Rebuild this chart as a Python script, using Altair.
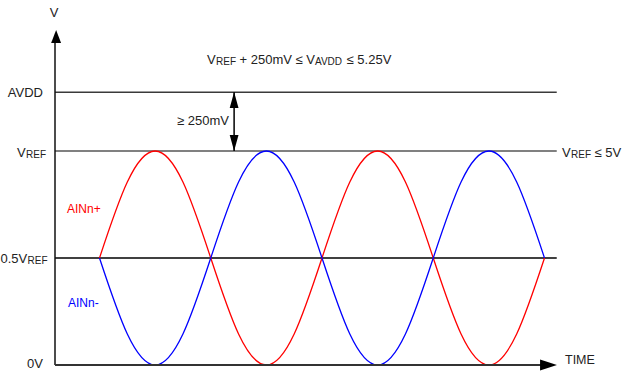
import altair as alt
import pandas as pd

# ---- data ----
# time in units of one half-period of the waveform, voltage in units of 0.5*VREF
wave_time = [0.40, 0.65, 0.90, 1.15, 1.40, 1.65, 1.90, 2.15, 2.40,
             2.65, 2.90, 3.15, 3.40, 3.65, 3.90, 4.15, 4.40]
ain_pos = [1.00, 1.71, 2.00, 1.71, 1.00, 0.29, 0.00, 0.29, 1.00,
           1.71, 2.00, 1.71, 1.00, 0.29, 0.00, 0.29, 1.00]
ain_neg = [1.00, 0.29, 0.00, 0.29, 1.00, 1.71, 2.00, 1.71, 1.00,
           0.29, 0.00, 0.29, 1.00, 1.71, 2.00, 1.71, 1.00]

level_names = ["0V", "0.5VREF", "VREF", "AVDD"]
level_values = [0.0, 1.0, 2.0, 2.55]
line_end = 4.51      # right end of the level lines
axis_x_end = 4.40    # x axis line end (arrow base)
axis_y_end = 3.02    # y axis line end (arrow base)
gap_time = 1.61      # position of the >=250mV double arrow

FONT = "Liberation Sans"
TXT = "#222222"

xs = alt.Scale(domain=[-55 / 111.25, 571 / 111.25], nice=False, zero=False)
ys = alt.Scale(domain=[-11 / 107, 365 / 107], nice=False, zero=False)


def X(v):
    return alt.X(datum=v, type="quantitative", scale=xs, axis=None)


def Y(v):
    return alt.Y(datum=v, type="quantitative", scale=ys, axis=None)


one = alt.Data(values=[{}])


def hrule(level, x0, x1, color, width):
    return alt.Chart(one).mark_rule(color=color, strokeWidth=width).encode(
        x=X(x0), x2=alt.X2(datum=x1), y=Y(level))


def arrow(path, t, v, size):
    return alt.Chart(one).mark_point(
        shape=path, filled=True, size=size, color="black", opacity=1, strokeWidth=0
    ).encode(x=X(t), y=Y(v))


def label(text, x, y, size=13, color=TXT, align="left"):
    return alt.Chart(one).mark_text(
        text=text, font=FONT, fontSize=size, color=color, align=align,
        baseline="alphabetic"
    ).encode(x=alt.value(x), y=alt.value(y))


wave_df = pd.DataFrame({"t": wave_time, "pos": ain_pos, "neg": ain_neg})

red = alt.Chart(wave_df).mark_line(color="#ff0000", strokeWidth=1.3, interpolate="natural").encode(
    x=alt.X("t:Q", scale=xs, axis=None), y=alt.Y("pos:Q", scale=ys, axis=None))
blue = alt.Chart(wave_df).mark_line(color="#0000ff", strokeWidth=1.3, interpolate="natural").encode(
    x=alt.X("t:Q", scale=xs, axis=None), y=alt.Y("neg:Q", scale=ys, axis=None))

layers = [
    hrule(level_values[3], 0, line_end, "#3a3a3a", 1.5),
    hrule(level_values[2], 0, line_end, "#808080", 2.2),
    hrule(level_values[1], 0, line_end, "#000000", 1.5),
    red,
    blue,
    # axes
    alt.Chart(one).mark_rule(color="#111111", strokeWidth=1.5).encode(
        x=X(0), y=Y(0), y2=alt.Y2(datum=axis_y_end)),
    hrule(level_values[0], 0, axis_x_end, "#333333", 2),
    arrow("M0,-0.93L0.71,0.93L-0.71,0.93Z", 0.01, 3.07, 196),
    arrow("M0.94,0L-0.94,-0.61L-0.94,0.61Z", 4.436, 0.0, 324),
    # >= 250 mV gap arrow
    alt.Chart(one).mark_rule(color="#000000", strokeWidth=1.5).encode(
        x=X(gap_time), y=Y(level_values[2]), y2=alt.Y2(datum=level_values[3])),
    arrow("M0,-1L0.55,1L-0.55,1Z", gap_time, 2.477, 256),
    arrow("M0,1L0.55,-1L-0.55,-1Z", gap_time, 2.075, 256),
    # texts
    label("V", 54, 17, align="center"),
    label("AVDD", 43, 97, align="right"),
    label("V", 17, 157),
    label("REF", 26, 158, size=10),
    label("0.5V", 0.5, 263),
    label("REF", 27.5, 264, size=10),
    label("0V", 43, 368, align="right"),
    label("V", 207, 64),
    label("REF", 216, 65, size=10),
    label("+ 250mV \u2264 V", 239.6, 64),
    label("AVDD", 315, 65, size=10),
    label("\u2264 5.25V", 346.6, 64),
    label("\u2265 250mV", 177, 125),
    label("V", 562, 157),
    label("REF", 571, 158, size=10),
    label("\u2264 5V", 594.6, 157),
    label("TIME", 565, 364, size=12.5),
    label("AINn+", 67, 213, size=12, color="#ff0000"),
    label("AINn-", 68, 307, size=12, color="#0000ff"),
]

chart = alt.layer(*layers).properties(
    width=626, height=376, padding=0,
    autosize=alt.AutoSizeParams(type="none"),
    background="white",
).configure_view(strokeWidth=0)

chart.save("out.html", embed_options={"renderer": "svg", "actions": False})
